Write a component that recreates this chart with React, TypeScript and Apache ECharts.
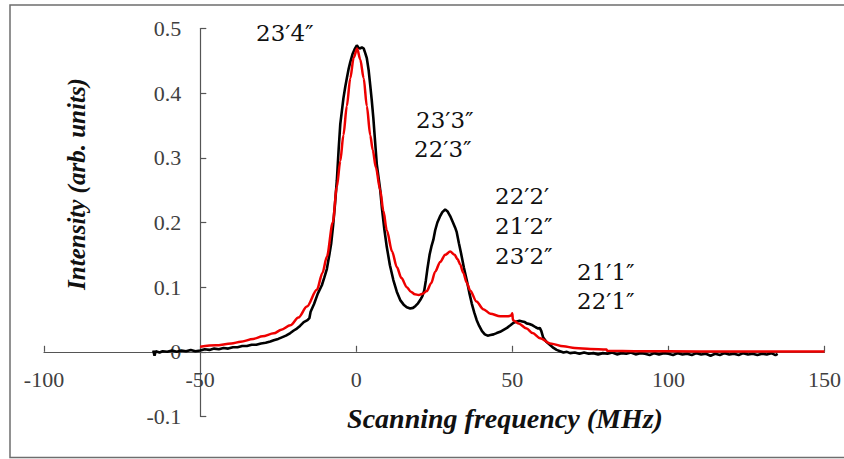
import React, { useEffect, useRef } from "react";
import * as echarts from "echarts";

// Experimental spectrum (black): [frequency MHz, intensity]
const measured: [number, number][] = [
  [-65, 0.002], [-64.6, -0.006], [-64.2, 0.001], [-63, -0.001], [-62, 0.001], [-60.5, 0.0], [-59, 0.002],
  [-57.5, 0.0], [-56, 0.002], [-54.5, 0.001], [-53, 0.003], [-51.5, 0.001], [-50, 0.002], [-48.5, 0.004],
  [-47, 0.003], [-45.5, 0.005], [-44, 0.004], [-42.5, 0.006], [-41, 0.005], [-39.5, 0.007], [-38, 0.007],
  [-36.5, 0.009], [-35, 0.009], [-33.5, 0.011], [-32, 0.011], [-30.5, 0.013], [-29, 0.014], [-27.5, 0.016],
  [-26.4, 0.018], [-25, 0.02], [-24, 0.022], [-22.5, 0.025], [-21.1, 0.029], [-20, 0.033], [-19, 0.036],
  [-18, 0.04], [-16.8, 0.046], [-15.6, 0.049], [-15, 0.052], [-14.6, 0.062], [-13.5, 0.074], [-12.3, 0.09],
  [-11, 0.103], [-10.2, 0.115], [-9.4, 0.128], [-8.6, 0.15], [-8, 0.168], [-7.4, 0.195], [-6.8, 0.228],
  [-6.2, 0.265], [-5.6, 0.315], [-5.1, 0.352], [-4.7, 0.368], [-4.1, 0.392], [-3.5, 0.41], [-3, 0.423],
  [-2.4, 0.438], [-1.9, 0.448], [-1.2, 0.46], [-0.5, 0.468], [0.2, 0.474], [0.8, 0.47], [1.3, 0.469],
  [1.8, 0.471], [2.4, 0.469], [2.9, 0.462], [3.4, 0.454], [4, 0.435], [4.5, 0.412], [5, 0.388],
  [5.5, 0.361], [6.1, 0.322], [6.6, 0.29], [7.2, 0.268], [7.7, 0.25], [8.2, 0.224], [9, 0.19],
  [9.8, 0.162], [10.8, 0.134], [11.9, 0.111], [13, 0.093], [14.1, 0.08], [15.2, 0.073], [16.2, 0.069],
  [17.3, 0.067], [18.2, 0.068], [19, 0.071], [19.8, 0.075], [20.5, 0.08], [21.2, 0.086], [21.8, 0.095],
  [22.3, 0.11], [22.8, 0.128], [23.5, 0.15], [24.1, 0.163], [24.7, 0.173], [25.3, 0.188], [26, 0.2],
  [26.8, 0.209], [27.6, 0.216], [28.5, 0.22], [29.3, 0.217], [30.1, 0.21], [31, 0.2], [31.7, 0.192],
  [32.2, 0.185], [32.9, 0.168], [33.6, 0.152], [34.5, 0.13], [35.4, 0.111], [36.2, 0.092], [37, 0.075],
  [37.8, 0.061], [38.6, 0.049], [39.4, 0.04], [40.3, 0.032], [41.2, 0.027], [42.1, 0.025], [43, 0.026],
  [44, 0.027], [45, 0.029], [46.1, 0.031], [47.2, 0.034], [48.3, 0.037], [49.4, 0.041], [50.4, 0.045],
  [51.4, 0.047], [52.3, 0.048], [53.2, 0.047], [54, 0.046], [54.6, 0.044], [55.5, 0.043], [56.5, 0.041],
  [57.5, 0.038], [58.3, 0.036], [58.8, 0.037], [59.3, 0.032], [59.9, 0.022], [61, 0.015], [62.2, 0.01],
  [63.2, 0.006], [64.2, 0.003], [65.3, 0.001], [66.4, -0.001], [67.5, 0.0], [68.5, -0.002], [70, -0.001],
  [71.5, -0.003], [73, -0.001], [74.5, -0.003], [76, -0.002], [77.5, -0.004], [79, -0.002], [80.5, -0.003],
  [82, -0.001], [83.5, -0.004], [85, -0.002], [86.5, -0.003], [88, -0.001], [89.5, -0.004], [91, -0.002],
  [92.5, -0.003], [94, -0.005], [95.5, -0.002], [97, -0.004], [98.5, -0.002], [100, -0.003], [101.5, -0.005],
  [103, -0.002], [104.5, -0.004], [106, -0.003], [107.5, -0.005], [109, -0.002], [110.5, -0.004],
  [112, -0.003], [113.5, -0.006], [115, -0.003], [116.5, -0.005], [118, -0.002], [119.5, -0.004],
  [121, -0.003], [122.5, -0.005], [124, -0.002], [125.5, -0.004], [127, -0.003], [128.5, -0.005],
  [130, -0.003], [131.5, -0.004], [133, -0.002], [134.3, -0.005], [135, -0.003],
];

// Fitted spectrum (red)
const fitted: [number, number][] = [
  [-50, 0.008], [-45, 0.01], [-40, 0.013], [-37, 0.0156], [-33, 0.02], [-30, 0.024], [-26.4, 0.0286],
  [-24, 0.034], [-21.1, 0.041], [-18.5, 0.053], [-15.8, 0.07], [-12.6, 0.096], [-10.8, 0.122],
  [-9.4, 0.147], [-7.5, 0.2], [-6.2, 0.255], [-5.1, 0.295], [-4.1, 0.335], [-3, 0.38], [-1.9, 0.423],
  [-0.8, 0.455], [0.3, 0.469], [1.3, 0.452], [2.4, 0.423], [3.4, 0.38], [4.5, 0.335], [5.3, 0.312],
  [6.3, 0.285], [7.7, 0.25], [8.7, 0.218], [9.8, 0.188], [11.5, 0.155], [13, 0.131], [14.5, 0.114],
  [16.2, 0.1], [17.5, 0.093], [18.8, 0.089], [20, 0.088], [21.3, 0.09], [22.6, 0.094], [24, 0.106],
  [25.3, 0.124], [26.9, 0.139], [28.5, 0.15], [30.1, 0.155], [31.5, 0.15], [32.5, 0.143], [33.3, 0.135],
  [34.3, 0.122], [35.4, 0.107], [36.5, 0.095], [38.5, 0.078], [40.7, 0.066], [43, 0.059], [46.1, 0.055],
  [48.5, 0.055], [49.6, 0.056], [50, 0.0595], [50.2, 0.049], [52, 0.044], [54.6, 0.036], [56.5, 0.029],
  [58.9, 0.021], [62.1, 0.013], [66.4, 0.0085], [70, 0.006], [75, 0.0045], [80.2, 0.0035], [80.4, 0.0015],
  [90, 0.001], [100, 0.0008], [120, 0.0005], [150, 0.0004],
];

const xTicks = { min: -100, max: 150, interval: 50 };
const yTicks = { min: -0.1, max: 0.5, interval: 0.1 };

const annotations: { text: string; x: number; y: number }[] = [
  { text: "23′4″", x: 256, y: 33 },
  { text: "23′3″", x: 416, y: 120 },
  { text: "22′3″", x: 414, y: 149 },
  { text: "22′2′", x: 495, y: 196 },
  { text: "21′2″", x: 495, y: 226 },
  { text: "23′2″", x: 495, y: 256 },
  { text: "21′1″", x: 577, y: 272 },
  { text: "22′1″", x: 577, y: 301 },
];

const xName = "Scanning frequency (MHz)";
const yName = "Intensity (arb. units)";

const SERIF = "'Liberation Serif', 'Times New Roman', serif";
const ANNOT = "'DejaVu Serif', serif";

export default function App() {
  const ref = useRef<HTMLDivElement>(null);
  useEffect(() => {
    document.body.style.margin = "0";
    if (!ref.current) return;
    const chart = echarts.init(ref.current, undefined, { renderer: "svg" });
    const axisColor = "#555555";
    const labelColor = "#404040";
    chart.setOption({
      animation: false,
      backgroundColor: "#ffffff",
      grid: { left: 44, right: 18.5, top: 28.5, bottom: 42.5 },
      xAxis: {
        type: "value",
        min: xTicks.min,
        max: xTicks.max,
        interval: xTicks.interval,
        offset: -64.7,
        axisLine: { show: true, onZero: false, lineStyle: { color: axisColor, width: 1.2 } },
        axisTick: { show: true, inside: true, length: 6, lineStyle: { color: axisColor, width: 1.2 } },
        axisLabel: {
          margin: 17,
          color: labelColor,
          fontFamily: SERIF,
          fontSize: 22,
          showMinLabel: true,
          showMaxLabel: true,
        },
        splitLine: { show: false },
      },
      yAxis: {
        type: "value",
        min: yTicks.min,
        max: yTicks.max,
        interval: yTicks.interval,
        offset: -156.3,
        axisLine: { show: true, onZero: false, lineStyle: { color: axisColor, width: 1.2 } },
        axisTick: { show: true, inside: true, length: 6, lineStyle: { color: axisColor, width: 1.2 } },
        axisLabel: {
          margin: 19,
          color: labelColor,
          fontFamily: SERIF,
          fontSize: 22,
          formatter: (v: number) => String(+v.toFixed(1)),
        },
        splitLine: { show: false },
      },
      series: [
        {
          type: "line",
          data: measured,
          showSymbol: false,
          lineStyle: { color: "#000000", width: 2.6 },
          z: 2,
        },
        {
          type: "line",
          data: fitted,
          showSymbol: false,
          smooth: 0.3,
          smoothMonotone: "x",
          lineStyle: { color: "#ee0000", width: 2.5 },
          z: 3,
        },
      ],
      graphic: [
        {
          type: "rect",
          shape: { x: 10, y: 5, width: 850, height: 452.5 },
          style: { fill: "none", stroke: "#6e6e6e", lineWidth: 1.5 },
          silent: true,
        },
        {
          type: "text",
          x: 505,
          y: 418,
          style: {
            text: xName,
            fontFamily: SERIF,
            fontStyle: "italic",
            fontWeight: "bold",
            fontSize: 28,
            fill: "#111111",
            textAlign: "center",
            textVerticalAlign: "middle",
          },
        },
        {
          type: "text",
          x: 76,
          y: 184,
          rotation: Math.PI / 2,
          style: {
            text: yName,
            fontFamily: SERIF,
            fontStyle: "italic",
            fontWeight: "bold",
            fontSize: 25,
            fill: "#111111",
            textAlign: "center",
            textVerticalAlign: "middle",
          },
        },
        ...annotations.map((a) => ({
          type: "text",
          x: a.x,
          y: a.y,
          style: {
            text: a.text,
            fontFamily: ANNOT,
            fontSize: 23,
            fill: "#111111",
            textAlign: "left",
            textVerticalAlign: "middle",
          },
        })),
      ],
    });
    return () => chart.dispose();
  }, []);
  return <div ref={ref} style={{ width: 844, height: 459 }} />;
}
